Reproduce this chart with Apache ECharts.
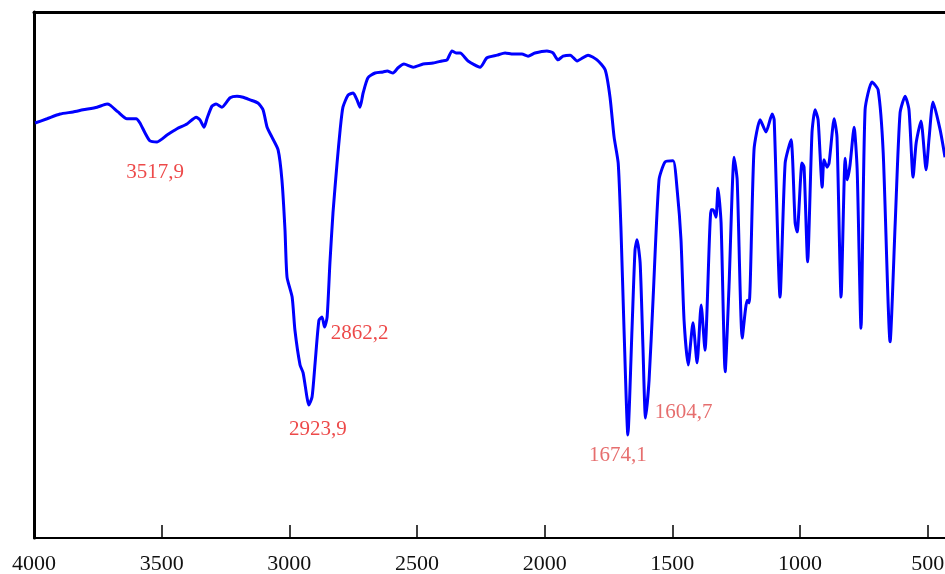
<!DOCTYPE html>
<html>
<head>
<meta charset="utf-8">
<script src="https://cdn.jsdelivr.net/npm/echarts@6/dist/echarts.min.js"></script>
<style>
html,body{margin:0;padding:0;background:#fff;}
#div_ir{width:945px;height:574px;}
</style>
</head>
<body>
<div id="div_ir"></div>
<script>
// wavenumber (cm-1)
var wavenumber = [3996,3949,3898,3847,3808,3753,3714,3702,3671,3636,3600,3585,3565,3546,3518,3479,3440,3401,3365,3350,
	3334,3322,3303,3287,3264,3232,3205,3181,3154,3123,3103,3087,3068,3044,3029,3017,3009,2989,2978,2958,
	2946,2931,2924,2911,2899,2884,2872,2862,2852,2841,2829,2813,2801,2790,2770,2750,2735,2723,2711,2692,
	2664,2633,2617,2594,2574,2551,2515,2476,2437,2402,2382,2363,2347,2331,2300,2253,2226,2186,2155,2124,
	2089,2065,2038,1991,1967,1948,1928,1900,1873,1830,1795,1763,1744,1728,1712,1701,1689,1674,1658,1646,
	1638,1626,1615,1605,1591,1575,1552,1528,1497,1481,1466,1454,1438,1419,1403,1387,1372,1348,1340,1329,
	1321,1309,1293,1278,1258,1246,1226,1207,1199,1180,1156,1133,1109,1101,1078,1058,1035,1019,1011,992,
	984,970,953,941,929,913,906,894,886,866,855,839,823,815,804,788,776,761,745,718,
	694,674,647,627,608,588,573,557,545,526,506,494,479,451,432];
// transmittance (%)
var transmittance = [78.9,79.7,80.6,81.0,81.4,81.9,82.5,82.3,81.0,79.7,79.7,78.9,77.0,75.5,75.3,76.6,77.8,78.7,80.0,79.5,
	78.1,79.8,82.1,82.5,81.9,83.7,84.0,83.8,83.3,82.7,81.4,78.1,76.2,73.8,68.1,58.6,49.6,45.8,39.5,32.9,
	31.4,26.8,25.3,26.8,33.3,41.4,42.0,40.1,42.0,52.3,61.8,71.3,77.6,81.9,84.2,84.6,83.3,81.9,84.6,87.5,
	88.4,88.6,88.8,88.4,89.4,90.1,89.5,90.1,90.3,90.7,90.9,92.6,92.2,92.2,90.7,89.5,91.3,91.8,92.2,92.0,
	92.0,91.6,92.2,92.6,92.2,90.9,91.6,91.8,90.7,91.8,90.9,89.0,83.8,76.2,71.3,58.6,39.5,19.6,39.5,54.8,
	56.7,52.3,36.3,22.8,30.0,45.8,68.1,71.5,71.7,66.2,56.7,41.4,32.9,40.9,33.3,44.3,35.7,62.4,62.4,61.0,
	66.5,59.9,31.6,47.7,72.4,68.1,38.0,45.2,44.7,73.8,79.5,77.2,80.6,79.5,45.8,71.3,75.7,59.9,58.2,71.3,
	70.5,52.5,77.0,81.4,79.5,66.7,71.9,70.5,71.3,79.7,76.2,45.8,72.2,68.1,70.9,78.1,70.0,39.9,81.4,86.7,
	85.2,73.2,37.3,59.9,80.8,84.0,81.4,68.6,75.1,79.3,70.0,76.2,82.9,77.6,72.4];
// 标注的峰
var peakWn = [3517.9, 2923.9, 2862.2, 1674.1, 1604.7];
var peakT = [75.3, 25.3, 40.1, 19.6, 22.8];
var peakText = ['3517,9', '2923,9', '2862,2', '1674,1', '1604,7'];
var tickValues = [4000, 3500, 3000, 2500, 2000, 1500, 1000, 500];

var labelOffsets = [[-2, 31], [9, 25], [35, 6], [-10, 21], [38, -6]];
var labelColors = ['#e81c1c', '#e81c1c', '#e81c1c', '#e04a4a', '#e04a4a'];

var lineData = [];
for (var i = 0; i < wavenumber.length; i++) {
	lineData.push([wavenumber[i], transmittance[i]]);
}
var peakData = [];
for (var j = 0; j < peakWn.length; j++) {
	peakData.push({
		value: [peakWn[j], peakT[j]],
		label: {offset: labelOffsets[j], color: labelColors[j]}
	});
}

var option = {
	animation: false,
	backgroundColor: '#fff',
	grid: {left: 34, right: 0, top: 12, bottom: 36, containLabel: false, outerBoundsMode: 'none'},
	xAxis: [
		{
			type: 'value',
			inverse: true,
			min: 432,
			max: 4000,
			position: 'bottom',
			splitLine: {show: false},
			axisLine: {show: true, onZero: false, lineStyle: {color: '#000', width: 2}},
			axisTick: {show: true, inside: true, length: 13, customValues: tickValues,
				lineStyle: {color: '#000', width: 1.5}},
			axisLabel: {show: true, customValues: tickValues, margin: 15,
				formatter: function (v) { return String(v); },
				fontFamily: 'Liberation Serif', fontSize: 22, color: '#111'}
		},
		{
			// 上边框
			type: 'value',
			inverse: true,
			min: 432,
			max: 4000,
			position: 'top',
			splitLine: {show: false},
			axisLine: {show: true, onZero: false, lineStyle: {color: '#000', width: 3}},
			axisTick: {show: false},
			axisLabel: {show: false}
		}
	],
	yAxis: {
		type: 'value',
		min: 0,
		max: 100,
		splitLine: {show: false},
		axisLine: {show: true, onZero: false, lineStyle: {color: '#000', width: 3}},
		axisTick: {show: false},
		axisLabel: {show: false}
	},
	series: [
		{
			name: 'IR',
			type: 'line',
			xAxisIndex: 0,
			data: lineData,
			showSymbol: false,
			smooth: 0.2,
			lineStyle: {color: '#0000ff', width: 3},
			z: 3
		},
		{
			name: 'peaks',
			type: 'scatter',
			xAxisIndex: 0,
			data: peakData,
			symbolSize: 1,
			itemStyle: {color: 'rgba(0,0,0,0)'},
			label: {
				show: true,
				position: 'inside',
				formatter: function (p) { return peakText[p.dataIndex]; },
				fontFamily: 'Liberation Serif',
				fontSize: 21
			},
			z: 4
		}
	]
};

var myChart = echarts.init(document.getElementById('div_ir'));
myChart.setOption(option);
</script>
</body>
</html>
